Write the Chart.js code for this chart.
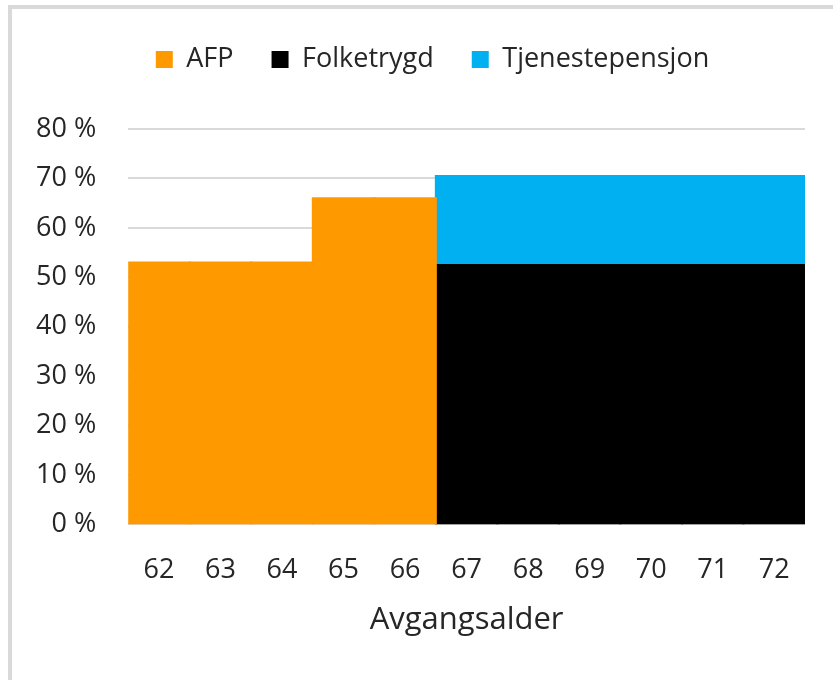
<!DOCTYPE html>
<html>
<head>
<meta charset="utf-8">
<script src="https://cdn.jsdelivr.net/npm/chart.js@4"></script>
<style>
  html, body { margin: 0; padding: 0; background: #fff; }
  #wrap { position: relative; width: 833px; height: 680px; overflow: hidden; }
  #frame { position: absolute; left: 8px; top: 5px; right: -10px; bottom: -10px;
           border-left: 4px solid #d9d9d9; border-top: 4px solid #d9d9d9; }
  canvas { position: absolute; left: 0; top: 0; }
</style>
</head>
<body>
<div id="wrap">
  <div id="frame"></div>
  <canvas id="chart" width="833" height="680"></canvas>
</div>
<script>
// ── Data ─────────────────────────────────────────────────────────────────────

const ages            = ['62', '63', '64', '65', '66', '67', '68', '69', '70', '71', '72'];
const afp             = [53, 53, 53, 66, 66, null, null, null, null, null, null];
const folketrygd      = [null, null, null, null, null, 52.5, 52.5, 52.5, 52.5, 52.5, 52.5];
const tjenestepensjon = [null, null, null, null, null, 18, 18, 18, 18, 18, 18];
const yTicks          = [0, 10, 20, 30, 40, 50, 60, 70, 80];

// ── Chart ────────────────────────────────────────────────────────────────────

const FONT = "'Open Sans', sans-serif";
const TEXT = '#262626';

// extra room under the legend, and nudge it right like the original
const legendTweak = {
    id: 'legendTweak',
    beforeInit(chart) {
        const fit = chart.legend.fit;
        chart.legend.fit = function () {
            fit.call(this);
            this.height += 46;
        };
    },
    afterLayout(chart) {
        chart.legend.left += 28;
        chart.legend.right += 28;
    }
};

const ctx = document.getElementById('chart').getContext('2d');
new Chart(ctx, {
    type: 'bar',
    data: {
        labels: ages,
        datasets: [
            { label: 'AFP',             data: afp,             backgroundColor: '#ff9900' },
            { label: 'Folketrygd',      data: folketrygd,      backgroundColor: '#000000' },
            { label: 'Tjenestepensjon', data: tjenestepensjon, backgroundColor: '#00b0f0' },
        ]
    },
    plugins: [legendTweak],
    options: {
        responsive: false,
        animation: false,
        layout: { padding: { left: 4, right: 28, top: 8, bottom: 37 } },
        datasets: { bar: { categoryPercentage: 1, barPercentage: 1, inflateAmount: 1 } },
        plugins: {
            tooltip: { enabled: false },
            legend: {
                position: 'top',
                labels: {
                    boxWidth: 17,
                    boxHeight: 17,
                    padding: 38,
                    color: TEXT,
                    font: { family: FONT, size: 27 }
                }
            }
        },
        scales: {
            x: {
                stacked: true,
                grid: { display: false },
                border: { display: false },
                ticks: { color: TEXT, padding: 22, font: { family: FONT, size: 27 } },
                title: {
                    display: true,
                    text: 'Avgangsalder',
                    color: TEXT,
                    padding: { top: -7 },
                    font: { family: FONT, size: 31 }
                }
            },
            y: {
                stacked: true,
                min: 0,
                max: 80,
                afterBuildTicks: axis => { axis.ticks = yTicks.map(v => ({ value: v })); },
                grid: { color: '#d9d9d9', lineWidth: 2, drawTicks: false },
                border: { display: false },
                ticks: {
                    color: TEXT,
                    padding: 32,
                    font: { family: FONT, size: 27 },
                    callback: v => v + ' %'
                }
            }
        }
    }
});
</script>
</body>
</html>
